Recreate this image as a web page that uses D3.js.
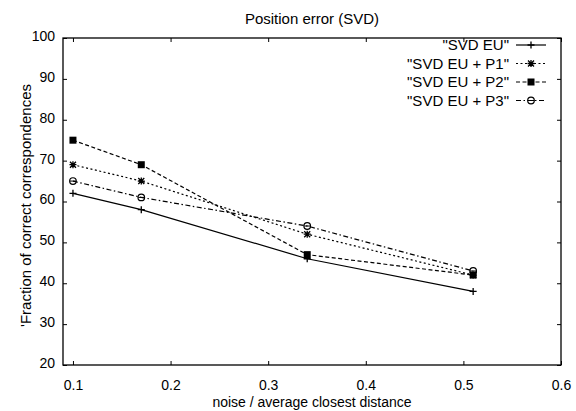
<!DOCTYPE html>
<html>
<head>
<meta charset="utf-8">
<script src="https://cdn.jsdelivr.net/npm/d3@7"></script>
<style>
  body { margin: 0; background: #fff; }
  svg text { font-family: "Liberation Sans", Arial, sans-serif; fill: #000; }
</style>
</head>
<body>
<svg id="chart" width="576" height="411"></svg>
<script>
// x values (noise / average closest distance)
const noiseLevels = [0.1, 0.17, 0.34, 0.51];
// series values, fraction of correct correspondences
const svdEu   = [62, 58, 46, 38];
const svdEuP1 = [69, 65, 52, 42];
const svdEuP2 = [75, 69, 47, 42];
const svdEuP3 = [65, 61, 54, 43];
const seriesNames = ['"SVD EU"', '"SVD EU + P1"', '"SVD EU + P2"', '"SVD EU + P3"'];
// tick labels
const xTicks = [0.1, 0.2, 0.3, 0.4, 0.5, 0.6];
const yTicks = [20, 30, 40, 50, 60, 70, 80, 90, 100];

// Plot frame
const plotLeft = 63, plotRight = 561, plotTop = 38, plotBottom = 365;
const fontSize = "15px";
const tickFontSize = "14px";

const svg = d3.select("#chart");

const scaleX = d3.scaleLinear().domain([0.0898, 0.6]).range([plotLeft, plotRight]);
const scaleY = d3.scaleLinear().domain([20, 100]).range([plotBottom, plotTop]);

// series styles: dash pattern and marker type
const series = [
    {name: seriesNames[0], values: svdEu,   dash: null,      marker: "plus"},
    {name: seriesNames[1], values: svdEuP1, dash: "2,2.5",   marker: "star"},
    {name: seriesNames[2], values: svdEuP2, dash: "4,2.5",   marker: "square"},
    {name: seriesNames[3], values: svdEuP3, dash: "5,2.5,1.5,2.5", marker: "circle"}
];

// Axes with inward ticks on all four sides (gnuplot style)
svg.append("g")
    .attr("transform", `translate(0, ${plotBottom})`)
    .call(d3.axisBottom(scaleX).tickValues(xTicks).tickSize(-4).tickPadding(15).tickFormat(d3.format(".1f")))
    .call(g => g.select(".domain").remove())
    .call(g => g.selectAll("text").style("font-size", tickFontSize));
svg.append("g")
    .attr("transform", `translate(0, ${plotTop})`)
    .call(d3.axisTop(scaleX).tickValues(xTicks).tickSize(-4).tickFormat(""))
    .call(g => g.select(".domain").remove());
svg.append("g")
    .attr("transform", `translate(${plotLeft}, 0)`)
    .call(d3.axisLeft(scaleY).tickValues(yTicks).tickSize(-4).tickPadding(8))
    .call(g => g.select(".domain").remove())
    .call(g => g.selectAll("text").style("font-size", tickFontSize).attr("y", -2));
svg.append("g")
    .attr("transform", `translate(${plotRight}, 0)`)
    .call(d3.axisRight(scaleY).tickValues(yTicks).tickSize(-4).tickFormat(""))
    .call(g => g.select(".domain").remove());

svg.selectAll(".tick line").attr("stroke", "#000");

// Frame
svg.append("rect")
    .attr("x", plotLeft).attr("y", plotTop)
    .attr("width", plotRight - plotLeft).attr("height", plotBottom - plotTop)
    .style("fill", "none").style("stroke", "#000").style("stroke-width", 1.3);

// Marker drawing
function drawMarker(g, type, x, y) {
    if (type === "plus") {
        g.append("path").attr("d", `M${x - 3.5},${y}H${x + 3.5}M${x},${y - 3.5}V${y + 3.5}`)
            .style("stroke", "#000").style("stroke-width", 1.3);
    } else if (type === "star") {
        g.append("path").attr("d", `M${x - 3.5},${y}H${x + 3.5}M${x},${y - 3.5}V${y + 3.5}M${x - 3},${y - 3}L${x + 3},${y + 3}M${x - 3},${y + 3}L${x + 3},${y - 3}`)
            .style("stroke", "#000").style("stroke-width", 1.3);
    } else if (type === "square") {
        g.append("rect").attr("x", x - 3.5).attr("y", y - 3.5).attr("width", 7).attr("height", 7)
            .style("fill", "#000");
    } else if (type === "circle") {
        g.append("circle").attr("cx", x).attr("cy", y).attr("r", 3.3)
            .style("fill", "none").style("stroke", "#000").style("stroke-width", 1.2);
        g.append("path").attr("d", `M${x - 3},${y}H${x + 3}`)
            .style("stroke", "#000").style("stroke-width", 1);
    }
}

const line = d3.line()
    .x((d, i) => scaleX(noiseLevels[i]))
    .y(d => scaleY(d));

const body = svg.append("g").attr("id", "chartBody");

series.forEach(s => {
    body.append("path")
        .datum(s.values)
        .attr("d", line)
        .style("fill", "none")
        .style("stroke", "#000")
        .style("stroke-width", 1.2)
        .style("stroke-dasharray", s.dash);
    s.values.forEach((v, i) => drawMarker(body, s.marker, scaleX(noiseLevels[i]), scaleY(v)));
});

// Legend
const legendTextX = 509, legendLineX0 = 516, legendLineX1 = 546;
const legendY0 = 45, legendStep = 18.5;
series.forEach((s, i) => {
    const y = legendY0 + i * legendStep;
    svg.append("text")
        .attr("x", legendTextX).attr("y", y)
        .attr("dy", "0.36em")
        .attr("text-anchor", "end")
        .style("font-size", fontSize)
        .text(s.name);
    svg.append("path")
        .attr("d", `M${legendLineX0},${y}H${legendLineX1}`)
        .style("stroke", "#000").style("stroke-width", 1.2)
        .style("stroke-dasharray", s.dash);
    drawMarker(svg, s.marker, (legendLineX0 + legendLineX1) / 2, y);
});

// Title and axis labels
svg.append("text")
    .attr("x", (plotLeft + plotRight) / 2).attr("y", 24)
    .attr("text-anchor", "middle")
    .style("font-size", fontSize)
    .text("Position error (SVD)");
svg.append("text")
    .attr("x", (plotLeft + plotRight) / 2).attr("y", 407)
    .attr("text-anchor", "middle")
    .style("font-size", tickFontSize)
    .text("noise / average closest distance");
svg.append("text")
    .attr("transform", `translate(31, ${(plotTop + plotBottom) / 2 + 4}) rotate(-90)`)
    .attr("text-anchor", "middle")
    .style("font-size", fontSize)
    .text("'Fraction of correct correspondences");
</script>
</body>
</html>
